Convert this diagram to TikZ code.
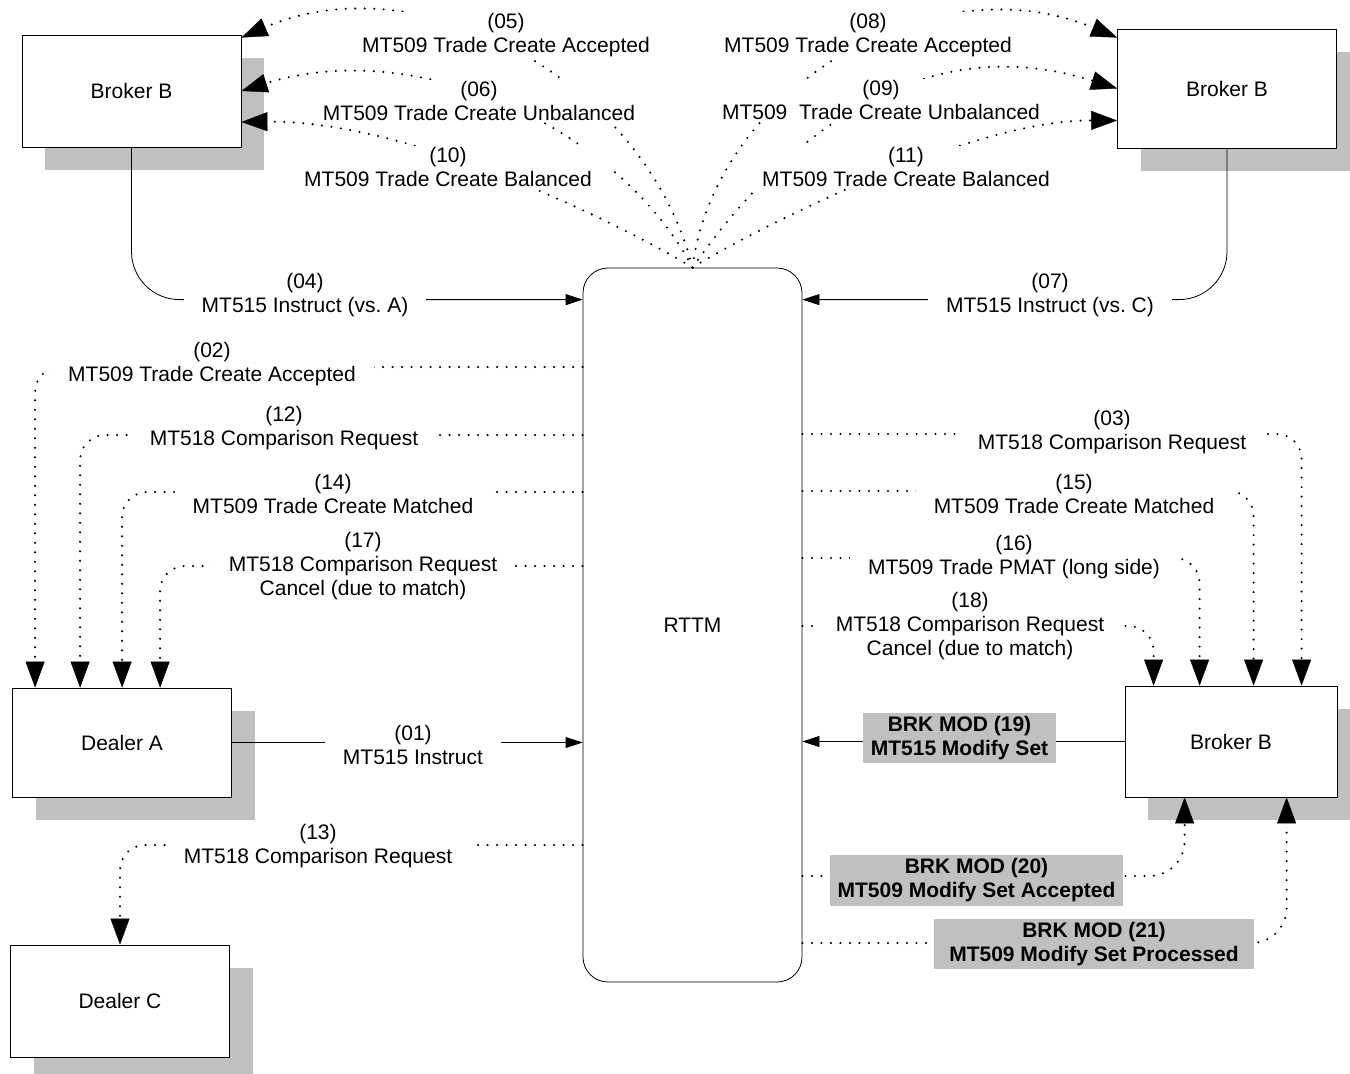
\documentclass[tikz,border=0pt]{standalone}
\usepackage{fontspec}
\setmainfont{Liberation Sans}
\usetikzlibrary{arrows.meta,shadows}
\definecolor{shadowgray}{RGB}{192,192,192}
\definecolor{modgray}{RGB}{192,192,192}
\tikzset{
	party/.style={draw, fill=white, line width=0.8pt, minimum width=219pt, minimum height=112pt,
		drop shadow={shadow xshift=23pt, shadow yshift=-23pt, fill=shadowgray, opacity=1}},
	msg/.style={fill=white, align=center, inner xsep=18pt, inner ysep=1pt},
	modmsg/.style={fill=modgray, align=center, inner xsep=8pt, inner ysep=3.5pt, font=\fontsize{21}{24}\selectfont\bfseries},
	solidflow/.style={line width=0.8pt, -{Triangle[length=17pt,width=11pt]}},
	dotflow/.style={line width=2.3pt, line cap=round, dash pattern=on 0pt off 9.5pt,
		-{Triangle[length=26pt,width=19pt,line width=0.4pt]}},
}
\begin{document}
\begin{tikzpicture}[x=1pt, y=-1pt, font=\fontsize{21}{24}\selectfont]
	\useasboundingbox (0,0) rectangle (1350,1074);

	% Draw the parties
	\node[party] (bTL) at (131.5,91) {Broker B};
	\node[party, minimum height=119pt] (bTR) at (1227,88.5) {Broker B};
	\node[party, minimum height=109pt] (dA) at (122,742.5) {Dealer A};
	\node[party] (dC) at (120,1001) {Dealer C};
	\node[party, minimum width=212pt, minimum height=111pt] (bBR) at (1231,741.5) {Broker B};
	\node[draw, line width=0.8pt, rounded corners=25pt, minimum width=219pt, minimum height=714pt, text depth=-10pt] (rttm) at (692.5,625) {RTTM};

	% instructions
	\draw[solidflow] (dA.east) -- (dA.east -| rttm.west);
	\draw[solidflow] (bBR.west) -- (bBR.west -| rttm.east);
	\draw[solidflow, rounded corners=48pt] (bTL.south) |- ([yshift=-32pt]rttm.north west);
	\draw[solidflow, rounded corners=48pt] (bTR.south) |- ([yshift=-32pt]rttm.north east);

	% fan out of the top
	\draw[dotflow] (rttm.north) .. controls (645,80) and (420,-40) .. ([yshift=-3pt]bTL.north east);
	\draw[dotflow] (rttm.north) .. controls (620,130) and (420,35) .. (bTL.east);
	\draw[dotflow] (rttm.north) .. controls (640,235) and (420,120) .. ([yshift=-31pt]bTL.east);
	\draw[dotflow] (rttm.north) .. controls (715,90) and (930,-40) .. ([yshift=-9pt]bTR.north west);
	\draw[dotflow] (rttm.north) .. controls (760,170) and (900,20) .. (bTR.west);
	\draw[dotflow] (rttm.north) .. controls (745,235) and (965,120) .. ([yshift=-32pt]bTR.west);

	% left side
	\draw[dotflow, rounded corners=25pt] (rttm.west |- 0,367) -| ([xshift=23pt]dA.north west);
	\draw[dotflow, rounded corners=25pt] (rttm.west |- 0,435) -| ([xshift=68pt]dA.north west);
	\draw[dotflow, rounded corners=25pt] (rttm.west |- 0,492) -| ([xshift=110pt]dA.north west);
	\draw[dotflow, rounded corners=25pt] (rttm.west |- 0,566) -| ([xshift=148pt]dA.north west);
	\draw[dotflow, rounded corners=25pt] (rttm.west |- 0,845) -| (dC.north);

	% right side
	\draw[dotflow, rounded corners=25pt] (rttm.east |- 0,434) -| ([xshift=177pt]bBR.north west);
	\draw[dotflow, rounded corners=25pt] (rttm.east |- 0,491) -| ([xshift=129pt]bBR.north west);
	\draw[dotflow, rounded corners=25pt] (rttm.east |- 0,558) -| ([xshift=75pt]bBR.north west);
	\draw[dotflow, rounded corners=25pt] (rttm.east |- 0,626) -| ([xshift=29pt]bBR.north west);
	\draw[dotflow, rounded corners=35pt] (rttm.east |- 0,876) -| ([xshift=60pt]bBR.south west);
	\draw[dotflow, rounded corners=35pt] (rttm.east |- 0,943) -| ([xshift=162pt]bBR.south west);

	% messages
	\node[msg] (l01) at (413,745) {(01)\\MT515 Instruct};
	\node[msg] (l04) at (305,295) {(04)\\MT515 Instruct (vs.\ A)};
	\node[msg] (l07) at (1050,295) {(07)\\MT515 Instruct (vs.\ C)};
	\node[msg] (l05) at (506,35) {(05)\\MT509 Trade Create Accepted};
	\node[msg] (l06) at (479,101) {(06)\\MT509 Trade Create Unbalanced};
	\node[msg] (l10) at (448,167) {(10)\\MT509 Trade Create Balanced};
	\node[msg] (l08) at (868,35) {(08)\\MT509 Trade Create Accepted};
	\node[msg] (l09) at (881,100) {(09)\\MT509\ \ Trade Create Unbalanced};
	\node[msg] (l11) at (906,167) {(11)\\MT509 Trade Create Balanced};
	\node[msg] (l02) at (212,364) {(02)\\MT509 Trade Create Accepted};
	\node[msg] (l12) at (284,428) {(12)\\MT518 Comparison Request};
	\node[msg] (l14) at (333,494) {(14)\\MT509 Trade Create Matched};
	\node[msg] (l17) at (363,566) {(17)\\MT518 Comparison Request\\Cancel (due to match)};
	\node[msg] (l13) at (318,846) {(13)\\MT518 Comparison Request};
	\node[msg] (l03) at (1112,432) {(03)\\MT518 Comparison Request};
	\node[msg] (l15) at (1074,494) {(15)\\MT509 Trade Create Matched};
	\node[msg] (l16) at (1014,557) {(16)\\MT509 Trade PMAT (long side)};
	\node[msg] (l18) at (970,626) {(18)\\MT518 Comparison Request\\Cancel (due to match)};
	\node[modmsg] (l19) at (959.5,738) {BRK MOD (19)\\MT515 Modify Set};
	\node[modmsg] (l20) at (976.5,880.5) {BRK MOD (20)\\MT509 Modify Set Accepted};
	\node[modmsg, inner xsep=15pt] (l21) at (1094,944) {BRK MOD (21)\\MT509 Modify Set Processed};
\end{tikzpicture}
\end{document}
